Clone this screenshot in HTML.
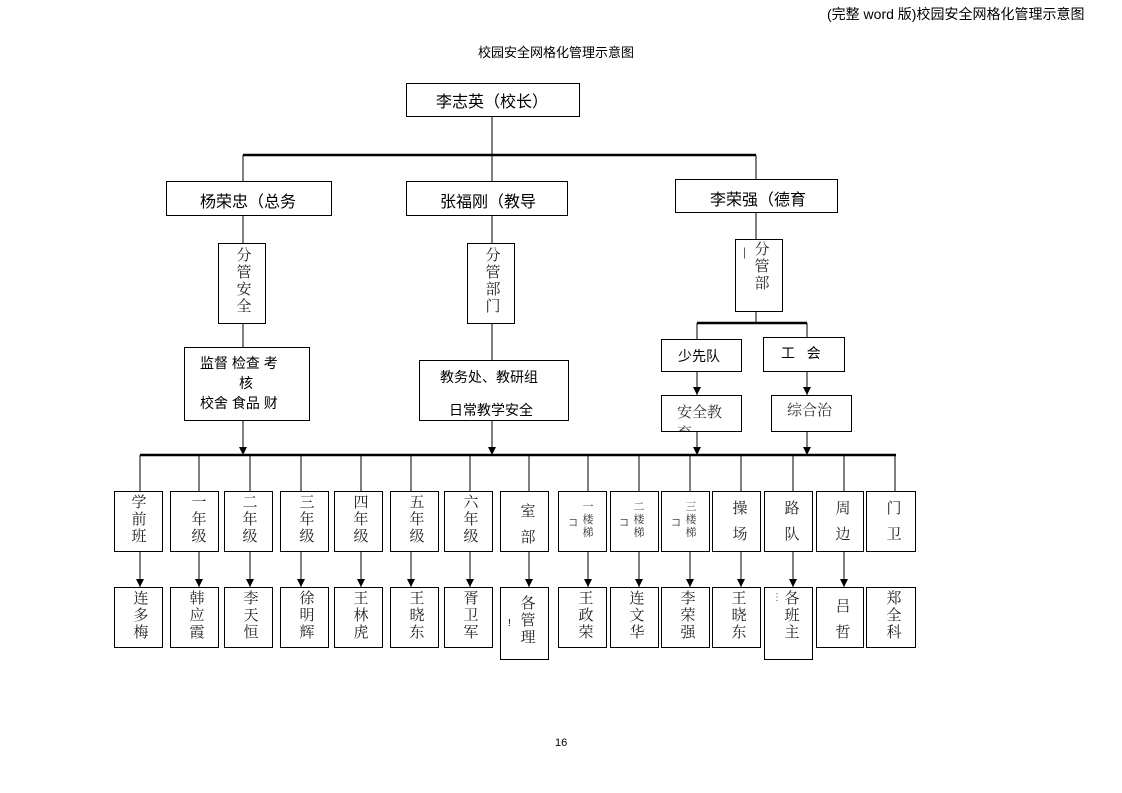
<!DOCTYPE html>
<html><head><meta charset="utf-8"><style>
body{margin:0;width:1122px;height:793px;background:#fff;position:relative;overflow:hidden;font-family:"Liberation Sans","Noto Sans CJK SC",sans-serif;color:#000}
.b{position:absolute;border:1px solid #000;box-sizing:border-box;background:#fff}
.t{position:absolute;white-space:nowrap}
.v{position:absolute;font-family:"Liberation Serif","Noto Serif CJK SC",serif;font-size:15px;line-height:17px;text-align:center;color:#222;width:20px}
.s{position:absolute;font-family:"Liberation Serif","Noto Serif CJK SC",serif;font-size:11px;line-height:13px;text-align:center;color:#333;width:14px}
</style></head><body>
<div class="t" style="left:827px;top:4px;font-size:14px">(完整 word 版)校园安全网格化管理示意图</div>
<div class="t" style="left:478px;top:42px;font-size:13px">校园安全网格化管理示意图</div>
<div class="t" style="left:555px;top:737px;font-size:11px">16</div>
<svg width="1122" height="793" style="position:absolute;left:0;top:0">
<defs><marker id="a" markerWidth="10" markerHeight="10" refX="8" refY="4" orient="auto" markerUnits="userSpaceOnUse"><path d="M0,0 L8,4 L0,8z" fill="#000"/></marker></defs>
<g stroke="#000" stroke-width="1" fill="none">
<line x1="492" y1="116" x2="492" y2="181"/>
<line x1="243" y1="155" x2="756" y2="155" stroke-width="2.5"/>
<line x1="243" y1="155" x2="243" y2="181"/><line x1="756" y1="155" x2="756" y2="179"/>
<line x1="243" y1="215" x2="243" y2="347"/><line x1="492" y1="215" x2="492" y2="360"/>
<line x1="756" y1="212" x2="756" y2="323"/>
<line x1="697" y1="323" x2="807" y2="323" stroke-width="2.5"/>
<line x1="697" y1="323" x2="697" y2="339"/><line x1="807" y1="323" x2="807" y2="337"/>
<line x1="697" y1="371" x2="697" y2="395" marker-end="url(#a)"/>
<line x1="807" y1="371" x2="807" y2="395" marker-end="url(#a)"/>
<line x1="243" y1="420" x2="243" y2="455" marker-end="url(#a)"/>
<line x1="492" y1="420" x2="492" y2="455" marker-end="url(#a)"/>
<line x1="697" y1="431" x2="697" y2="455" marker-end="url(#a)"/>
<line x1="807" y1="431" x2="807" y2="455" marker-end="url(#a)"/>
<line x1="140" y1="455" x2="896" y2="455" stroke-width="2.5"/>
<line x1="140" y1="455" x2="140" y2="491"/><line x1="199" y1="455" x2="199" y2="491"/><line x1="250" y1="455" x2="250" y2="491"/><line x1="301" y1="455" x2="301" y2="491"/><line x1="361" y1="455" x2="361" y2="491"/><line x1="411" y1="455" x2="411" y2="491"/><line x1="470" y1="455" x2="470" y2="491"/><line x1="529" y1="455" x2="529" y2="491"/><line x1="588" y1="455" x2="588" y2="491"/><line x1="639" y1="455" x2="639" y2="491"/><line x1="690" y1="455" x2="690" y2="491"/><line x1="741" y1="455" x2="741" y2="491"/><line x1="793" y1="455" x2="793" y2="491"/><line x1="844" y1="455" x2="844" y2="491"/><line x1="895" y1="455" x2="895" y2="491"/>
<line x1="140" y1="551" x2="140" y2="587" marker-end="url(#a)"/><line x1="199" y1="551" x2="199" y2="587" marker-end="url(#a)"/><line x1="250" y1="551" x2="250" y2="587" marker-end="url(#a)"/><line x1="301" y1="551" x2="301" y2="587" marker-end="url(#a)"/><line x1="361" y1="551" x2="361" y2="587" marker-end="url(#a)"/><line x1="411" y1="551" x2="411" y2="587" marker-end="url(#a)"/><line x1="470" y1="551" x2="470" y2="587" marker-end="url(#a)"/><line x1="529" y1="551" x2="529" y2="587" marker-end="url(#a)"/><line x1="588" y1="551" x2="588" y2="587" marker-end="url(#a)"/><line x1="639" y1="551" x2="639" y2="587" marker-end="url(#a)"/><line x1="690" y1="551" x2="690" y2="587" marker-end="url(#a)"/><line x1="741" y1="551" x2="741" y2="587" marker-end="url(#a)"/><line x1="793" y1="551" x2="793" y2="587" marker-end="url(#a)"/><line x1="844" y1="551" x2="844" y2="587" marker-end="url(#a)"/>
</g></svg>

<div class="b" style="left:406px;top:83px;width:174px;height:34px"></div><div class="t" style="left:436px;top:88px;font-size:16px">李志英（校长）</div>
<div class="b" style="left:166px;top:181px;width:166px;height:35px"></div><div class="t" style="left:200px;top:188px;font-size:16px">杨荣忠（总务</div>
<div class="b" style="left:406px;top:181px;width:162px;height:35px"></div><div class="t" style="left:440px;top:188px;font-size:16px">张福刚（教导</div>
<div class="b" style="left:675px;top:179px;width:163px;height:34px"></div><div class="t" style="left:710px;top:186px;font-size:16px">李荣强（德育</div>

<div class="b" style="left:218px;top:243px;width:48px;height:81px"></div><div class="v" style="left:234px;top:248px">分管安全</div>
<div class="b" style="left:467px;top:243px;width:48px;height:81px"></div><div class="v" style="left:483px;top:248px">分管部门</div>
<div class="b" style="left:735px;top:239px;width:48px;height:73px"></div><div class="v" style="left:752px;top:242px">分管部</div><div class="t" style="left:743px;top:245px;font-size:12px;color:#555">|</div>

<div class="b" style="left:184px;top:347px;width:126px;height:74px"></div>
<div class="t" style="left:200px;top:353px;font-size:14px">监督 检查 考</div>
<div class="t" style="left:239px;top:373px;font-size:14px">核</div>
<div class="t" style="left:200px;top:393px;font-size:14px">校舍 食品 财</div>
<div class="b" style="left:419px;top:360px;width:150px;height:61px"></div>
<div class="t" style="left:440px;top:367px;font-size:14px">教务处、教研组</div>
<div style="position:absolute;left:420px;top:395px;width:148px;height:25px;overflow:hidden"><div class="t" style="left:29px;top:5px;font-size:14px">日常教学安全</div></div>

<div class="b" style="left:661px;top:339px;width:81px;height:33px"></div><div class="t" style="left:678px;top:346px;font-size:14px">少先队</div>
<div class="b" style="left:763px;top:337px;width:82px;height:35px"></div><div class="t" style="left:781px;top:343px;font-size:14px">工 &nbsp;&nbsp;会</div>
<div class="b" style="left:661px;top:395px;width:81px;height:37px"></div>
<div style="position:absolute;left:662px;top:396px;width:79px;height:35px;overflow:hidden"><div class="t" style="left:15px;top:5px;font-size:15px;font-family:'Noto Serif CJK SC',serif;color:#333">安全教<br>育</div></div>
<div class="b" style="left:771px;top:395px;width:81px;height:37px"></div><div class="t" style="left:787px;top:399px;font-size:15px;font-family:'Noto Serif CJK SC',serif;color:#333">综合治</div>

<div class="b" style="left:114px;top:491px;width:49px;height:61px"></div><div class="v" style="left:129px;top:495px">学前班</div>
<div class="b" style="left:170px;top:491px;width:49px;height:61px"></div><div class="v" style="left:189px;top:495px">一年级</div>
<div class="b" style="left:224px;top:491px;width:49px;height:61px"></div><div class="v" style="left:240px;top:495px">二年级</div>
<div class="b" style="left:280px;top:491px;width:49px;height:61px"></div><div class="v" style="left:297px;top:495px">三年级</div>
<div class="b" style="left:334px;top:491px;width:49px;height:61px"></div><div class="v" style="left:351px;top:495px">四年级</div>
<div class="b" style="left:390px;top:491px;width:49px;height:61px"></div><div class="v" style="left:407px;top:495px">五年级</div>
<div class="b" style="left:444px;top:491px;width:49px;height:61px"></div><div class="v" style="left:461px;top:495px">六年级</div>
<div class="b" style="left:500px;top:491px;width:49px;height:61px"></div><div class="v" style="left:518px;top:499px;line-height:26px">室部</div>
<div class="b" style="left:558px;top:491px;width:49px;height:61px"></div><div class="s" style="left:581px;top:501px">一楼梯</div><div class="t" style="left:568px;top:514px;font-size:10px;color:#444">コ</div>
<div class="b" style="left:610px;top:491px;width:49px;height:61px"></div><div class="s" style="left:632px;top:501px">二楼梯</div><div class="t" style="left:619px;top:514px;font-size:10px;color:#444">コ</div>
<div class="b" style="left:661px;top:491px;width:49px;height:61px"></div><div class="s" style="left:684px;top:501px">三楼梯</div><div class="t" style="left:671px;top:514px;font-size:10px;color:#444">コ</div>
<div class="b" style="left:712px;top:491px;width:49px;height:61px"></div><div class="v" style="left:730px;top:496px;line-height:26px">操场</div>
<div class="b" style="left:764px;top:491px;width:49px;height:61px"></div><div class="v" style="left:782px;top:496px;line-height:26px">路队</div>
<div class="b" style="left:816px;top:491px;width:48px;height:61px"></div><div class="v" style="left:833px;top:496px;line-height:26px">周边</div>
<div class="b" style="left:866px;top:491px;width:50px;height:61px"></div><div class="v" style="left:884px;top:496px;line-height:26px">门卫</div>

<div class="b" style="left:114px;top:587px;width:49px;height:61px"></div><div class="v" style="left:131px;top:591px">连多梅</div>
<div class="b" style="left:170px;top:587px;width:49px;height:61px"></div><div class="v" style="left:187px;top:591px">韩应霞</div>
<div class="b" style="left:224px;top:587px;width:49px;height:61px"></div><div class="v" style="left:241px;top:591px">李天恒</div>
<div class="b" style="left:280px;top:587px;width:49px;height:61px"></div><div class="v" style="left:297px;top:591px">徐明辉</div>
<div class="b" style="left:334px;top:587px;width:49px;height:61px"></div><div class="v" style="left:351px;top:591px">王林虎</div>
<div class="b" style="left:390px;top:587px;width:49px;height:61px"></div><div class="v" style="left:407px;top:591px">王晓东</div>
<div class="b" style="left:444px;top:587px;width:49px;height:61px"></div><div class="v" style="left:461px;top:591px">胥卫军</div>
<div class="b" style="left:500px;top:587px;width:49px;height:73px"></div><div class="v" style="left:518px;top:596px">各管理</div><div class="t" style="left:508px;top:618px;font-size:10px">!</div>
<div class="b" style="left:558px;top:587px;width:49px;height:61px"></div><div class="v" style="left:576px;top:591px">王政荣</div>
<div class="b" style="left:610px;top:587px;width:49px;height:61px"></div><div class="v" style="left:627px;top:591px">连文华</div>
<div class="b" style="left:661px;top:587px;width:49px;height:61px"></div><div class="v" style="left:678px;top:591px">李荣强</div>
<div class="b" style="left:712px;top:587px;width:49px;height:61px"></div><div class="v" style="left:729px;top:591px">王晓东</div>
<div class="b" style="left:764px;top:587px;width:49px;height:73px"></div><div class="v" style="left:782px;top:591px">各班主</div><div class="t" style="left:772px;top:592px;font-size:10px;color:#555">⋮</div>
<div class="b" style="left:816px;top:587px;width:48px;height:61px"></div><div class="v" style="left:833px;top:594px;line-height:26px">吕哲</div>
<div class="b" style="left:866px;top:587px;width:50px;height:61px"></div><div class="v" style="left:884px;top:591px">郑全科</div>
</body></html>
